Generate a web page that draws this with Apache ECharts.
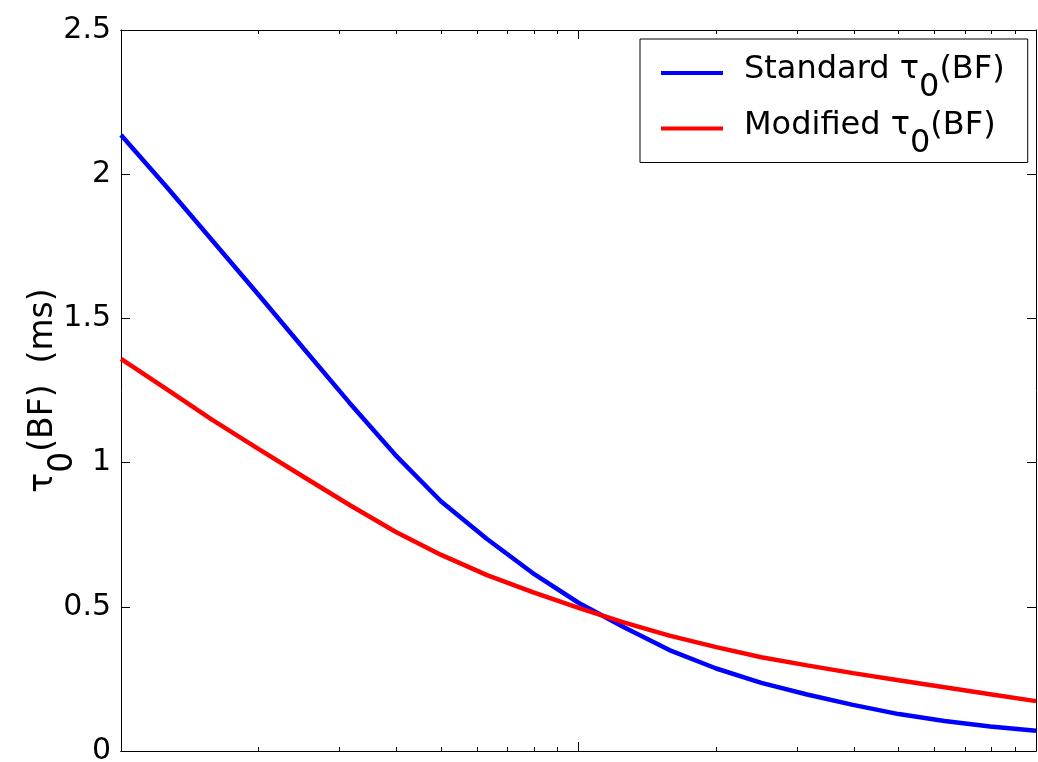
<!DOCTYPE html>
<html>
<head>
<meta charset="utf-8">
<script src="https://cdn.jsdelivr.net/npm/echarts@6/dist/echarts.min.js"></script>
<style>
  html, body { margin: 0; padding: 0; background: #fff; }
  #chart { width: 1038px; height: 762px; }
</style>
</head>
<body>
<div id="chart"></div>
<script>
// Best frequency (kHz), 10 points per decade
const bf = [0.1, 0.126, 0.158, 0.2, 0.251, 0.316, 0.398, 0.501, 0.631, 0.794,
            1, 1.26, 1.58, 2, 2.51, 3.16, 3.98, 5.01, 6.31, 7.94, 10];
// tau0(BF) in ms
const standardTau = [2.136, 1.955, 1.772, 1.581, 1.395, 1.207, 1.026, 0.865, 0.735, 0.617,
                     0.514, 0.428, 0.350, 0.286, 0.236, 0.196, 0.160, 0.128, 0.104, 0.085, 0.070];
const modifiedTau = [1.360, 1.254, 1.149, 1.047, 0.950, 0.853, 0.760, 0.680, 0.610, 0.551,
                     0.496, 0.445, 0.400, 0.360, 0.325, 0.297, 0.270, 0.245, 0.221, 0.197, 0.173];
const yTicks = [0, 0.5, 1, 1.5, 2, 2.5];
const seriesNames = ['Standard', 'Modified'];

const FONT = 'DejaVu Sans';
const lg = Math.log10;

// Log-scale x axis: positions are log10(BF)
const xMin = lg(bf[0]), xMax = lg(bf[bf.length - 1]);
const majorTicks = [];
const minorTicks = [];
for (let e = Math.round(xMin); e <= Math.round(xMax); e++) {
  majorTicks.push(e);
  if (e < Math.round(xMax)) {
    for (let m = 2; m <= 9; m++) minorTicks.push(e + lg(m));
  }
}

function toPoints(ys) {
  return bf.map((x, i) => [lg(x), ys[i]]);
}

function xAxisDef(position, ticks, len) {
  return {
    type: 'value',
    position: position,
    min: xMin,
    max: xMax,
    axisLine: { show: true, onZero: false, lineStyle: { color: '#000', width: 1 } },
    axisTick: { show: true, inside: true, length: len, customValues: ticks,
                lineStyle: { color: '#000', width: 1 } },
    axisLabel: { show: false },
    splitLine: { show: false }
  };
}

function yAxisDef(position, withLabels) {
  return {
    type: 'value',
    position: position,
    min: yTicks[0],
    max: yTicks[yTicks.length - 1],
    interval: 0.5,
    axisLine: { show: true, onZero: false, lineStyle: { color: '#000', width: 1 } },
    axisTick: { show: true, inside: true, length: 9, lineStyle: { color: '#000', width: 1 } },
    axisLabel: {
      show: withLabels,
      margin: 10,
      fontFamily: FONT,
      fontSize: 30,
      color: '#000',
      formatter: v => String(v)
    },
    splitLine: { show: false }
  };
}

// Subscript "0" drawn at full size, dropped below the main line by `drop` px
const LINE_H = 44;
function richStyle(size, drop) {
  const h = LINE_H - 2 * drop;
  return {
    a: { fontFamily: FONT, fontSize: size, color: '#000', lineHeight: LINE_H, verticalAlign: 'middle' },
    s: { fontFamily: FONT, fontSize: size, color: '#000', height: h, lineHeight: h, verticalAlign: 'bottom' }
  };
}

const leftAxis = yAxisDef('left', true);
leftAxis.name = '{a|τ}{s|0}{a|(BF)  (ms)}';
leftAxis.nameLocation = 'middle';
leftAxis.nameRotate = 90;
leftAxis.nameGap = 56;
leftAxis.nameMoveOverlap = false;
leftAxis.nameTextStyle = { color: '#000', lineHeight: LINE_H, rich: richStyle(33, 20) };

const chart = echarts.init(document.getElementById('chart'), null, { renderer: 'canvas' });
chart.setOption({
  animation: false,
  backgroundColor: '#fff',
  grid: { left: 121, right: 2, top: 30, bottom: 11, containLabel: false, outerBoundsMode: 'none' },
  xAxis: [
    xAxisDef('bottom', majorTicks, 9),
    xAxisDef('bottom', minorTicks, 4),
    xAxisDef('top', majorTicks, 9),
    xAxisDef('top', minorTicks, 4)
  ],
  yAxis: [leftAxis, yAxisDef('right', false)],
  legend: {
    orient: 'vertical',
    left: 640,
    top: 39,
    padding: [9, 23, 3, 21],
    itemGap: -0.5,
    itemWidth: 62,
    itemHeight: 4,
    icon: 'rect',
    borderColor: '#000',
    borderWidth: 1,
    backgroundColor: '#fff',
    selectedMode: false,
    textStyle: { fontFamily: FONT, fontSize: 32, lineHeight: LINE_H, padding: [0, 0, 6, 16], rich: richStyle(32, 18) },
    formatter: name => '{a|' + name + ' τ}{s|0}{a|(BF)}',
    data: seriesNames
  },
  series: [
    {
      name: seriesNames[0],
      type: 'line',
      data: toPoints(standardTau),
      showSymbol: false,
      color: '#0000ff',
      lineStyle: { color: '#0000ff', width: 4.5 },
      z: 3
    },
    {
      name: seriesNames[1],
      type: 'line',
      data: toPoints(modifiedTau),
      showSymbol: false,
      color: '#ff0000',
      lineStyle: { color: '#ff0000', width: 4.5 },
      z: 4
    }
  ]
});
</script>
</body>
</html>
